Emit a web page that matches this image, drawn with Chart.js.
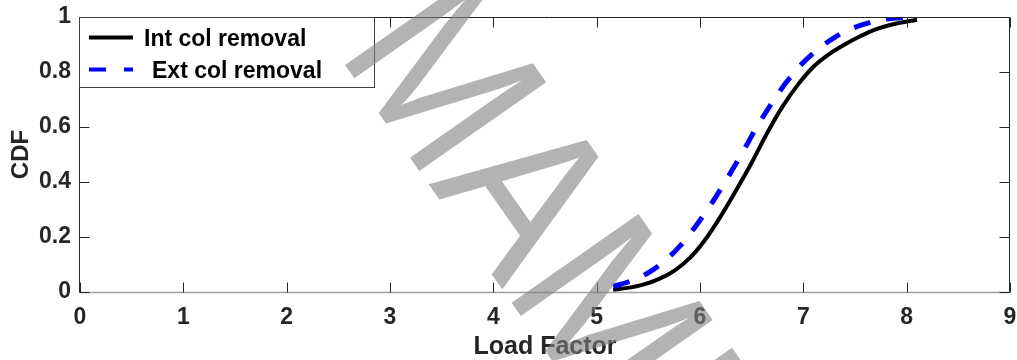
<!DOCTYPE html>
<html>
<head>
<meta charset="utf-8">
<script src="https://cdn.jsdelivr.net/npm/chart.js@4/dist/chart.umd.min.js"></script>
<style>
  html, body { margin: 0; padding: 0; background: #fff; }
  #wrap { width: 1017px; height: 360px; position: relative; }
</style>
</head>
<body>
<div id="wrap"><canvas id="c" width="1017" height="360"></canvas></div>
<script>
// Axis ticks
const xTicks = [0, 1, 2, 3, 4, 5, 6, 7, 8, 9];
const yTicks = [0, 0.2, 0.4, 0.6, 0.8, 1];
const yTickLabels = ['0', '0.2', '0.4', '0.6', '0.8', '1'];

// Interior column removal: load factor vs cumulative probability
const intLoad = [5.16, 5.30, 5.45, 5.60, 5.75, 5.90, 6.05, 6.20, 6.35, 6.50, 6.65, 6.80, 6.95, 7.10, 7.25, 7.40, 7.55, 7.70, 7.85, 8.10];
const intCdf  = [0.008, 0.015, 0.027, 0.047, 0.077, 0.123, 0.19, 0.275, 0.37, 0.47, 0.578, 0.675, 0.755, 0.82, 0.865, 0.90, 0.93, 0.955, 0.972, 0.99];

// Exterior column removal
const extLoad = [5.16, 5.33, 5.50, 5.65, 5.80, 5.95, 6.10, 6.25, 6.40, 6.55, 6.70, 6.85, 7.00, 7.15, 7.30, 7.45, 7.60, 7.75, 8.06];
const extCdf  = [0.02, 0.04, 0.07, 0.11, 0.165, 0.235, 0.315, 0.405, 0.50, 0.60, 0.69, 0.77, 0.835, 0.885, 0.925, 0.955, 0.975, 0.99, 1.0];

const seriesNames = ['Int col removal', 'Ext col removal'];
const xTitle = 'Load Factor';
const yTitle = 'CDF';
const watermarkText = 'MAMI';

const FONT = '"Liberation Sans", Arial, Helvetica, sans-serif';
const AXIS_COLOR = '#262626';

const toPoints = (xs, ys) => xs.map((x, i) => ({ x: x, y: ys[i] }));

// Box, inward ticks, legend and the diagonal stamp
const framePlugin = {
  id: 'frame',
  afterDraw(chart) {
    const ctx = chart.ctx;
    const { left, right, top, bottom } = chart.chartArea;
    const xs = chart.scales.x, ys = chart.scales.y;
    const L = Math.round(left) - 0.5, R = Math.round(right) - 0.5;
    const T = Math.round(top) + 0.5, B = Math.round(bottom) + 0.5;
    ctx.save();
    // axes box
    ctx.lineWidth = 1;
    ctx.strokeStyle = AXIS_COLOR;
    ctx.beginPath();
    ctx.moveTo(L, B); ctx.lineTo(L, T); ctx.lineTo(R, T); ctx.lineTo(R, B);
    ctx.stroke();
    ctx.strokeStyle = '#a0a0a0';
    ctx.lineWidth = 1.5;
    ctx.beginPath(); ctx.moveTo(L, B); ctx.lineTo(R, B); ctx.stroke();
    // ticks pointing inward
    ctx.strokeStyle = AXIS_COLOR;
    ctx.lineWidth = 1;
    const tl = 10;
    ctx.beginPath();
    xTicks.forEach(v => {
      const px = Math.round(xs.getPixelForValue(v)) + 0.5;
      ctx.moveTo(px, B); ctx.lineTo(px, B - tl);
      ctx.moveTo(px, T); ctx.lineTo(px, T + tl);
    });
    yTicks.forEach(v => {
      const py = Math.round(ys.getPixelForValue(v)) + 0.5;
      ctx.moveTo(L, py); ctx.lineTo(L + tl, py);
      ctx.moveTo(R, py); ctx.lineTo(R - tl, py);
    });
    ctx.stroke();

    // legend
    const lx0 = L, ly0 = T, lx1 = 374.5, ly1 = 87.5;
    ctx.fillStyle = '#fff';
    ctx.fillRect(lx0, ly0, lx1 - lx0, ly1 - ly0);
    ctx.strokeStyle = '#404040';
    ctx.lineWidth = 1;
    ctx.strokeRect(lx0, ly0, lx1 - lx0, ly1 - ly0);
    const ds = chart.data.datasets;
    ctx.font = 'bold 23px ' + FONT;
    ctx.textBaseline = 'alphabetic';
    ctx.textAlign = 'left';
    // entry 1
    ctx.lineWidth = 4;
    ctx.strokeStyle = ds[0].borderColor;
    ctx.setLineDash([]);
    ctx.beginPath(); ctx.moveTo(89, 37.5); ctx.lineTo(133, 37.5); ctx.stroke();
    ctx.fillStyle = '#000';
    ctx.fillText(ds[0].label, 144, 46);
    // entry 2
    ctx.strokeStyle = ds[1].borderColor;
    ctx.setLineDash([17, 18]);
    ctx.beginPath(); ctx.moveTo(89, 69.5); ctx.lineTo(133, 69.5); ctx.stroke();
    ctx.setLineDash([]);
    ctx.fillText(ds[1].label, 152, 78);

    // diagonal stamp text
    ctx.translate(336, 52);
    ctx.rotate(55 * Math.PI / 180);
    ctx.scale(0.86, 1);
    ctx.font = '225px ' + FONT;
    ctx.fillStyle = 'rgba(128,128,128,0.6)';
    ctx.textBaseline = 'alphabetic';
    ctx.fillText(watermarkText, 0, 0);
    ctx.restore();
  }
};

new Chart(document.getElementById('c'), {
  type: 'scatter',
  data: {
    datasets: [
      {
        label: seriesNames[0],
        data: toPoints(intLoad, intCdf),
        showLine: true,
        borderColor: '#000000',
        borderWidth: 4,
        pointRadius: 0,
        cubicInterpolationMode: 'monotone',
        fill: false,
        order: 1
      },
      {
        label: seriesNames[1],
        data: toPoints(extLoad, extCdf),
        showLine: true,
        borderColor: '#0000ff',
        borderWidth: 5,
        borderDash: [17, 16],
        pointRadius: 0,
        cubicInterpolationMode: 'monotone',
        fill: false,
        order: 0
      }
    ]
  },
  options: {
    responsive: false,
    animation: false,
    devicePixelRatio: 1,
    layout: { padding: { left: 0, right: 7, top: 17, bottom: 0 } },
    plugins: { legend: { display: false }, tooltip: { enabled: false } },
    scales: {
      x: {
        type: 'linear',
        min: 0, max: 9,
        afterBuildTicks: s => { s.ticks = xTicks.map(v => ({ value: v })); },
        afterFit: s => { s.height = 68; s.paddingLeft = 0; s.paddingRight = 0; },
        grid: { display: false, drawTicks: false },
        border: { display: false },
        ticks: {
          autoSkip: false, maxRotation: 0, padding: 12,
          color: AXIS_COLOR,
          font: { family: FONT, size: 23, weight: 'bold' },
          callback: v => String(v)
        },
        title: {
          display: true, text: xTitle, color: AXIS_COLOR,
          font: { family: FONT, size: 25, weight: 'bold', lineHeight: 1 },
          padding: { top: 0, bottom: 0 }
        }
      },
      y: {
        type: 'linear',
        min: 0, max: 1,
        afterBuildTicks: s => { s.ticks = yTicks.map(v => ({ value: v })); },
        afterFit: s => { s.width = 80; s.paddingTop = 0; s.paddingBottom = 0; },
        grid: { display: false, drawTicks: false },
        border: { display: false },
        ticks: {
          autoSkip: false, padding: 9,
          color: AXIS_COLOR,
          font: { family: FONT, size: 23, weight: 'bold' },
          callback: (v) => { const i = yTicks.indexOf(v); return i >= 0 ? yTickLabels[i] : ''; }
        },
        title: {
          display: true, text: yTitle, color: AXIS_COLOR,
          font: { family: FONT, size: 24, weight: 'bold', lineHeight: 1 },
          padding: { top: 9, bottom: 0 }
        }
      }
    }
  },
  plugins: [framePlugin]
});
</script>
</body>
</html>
